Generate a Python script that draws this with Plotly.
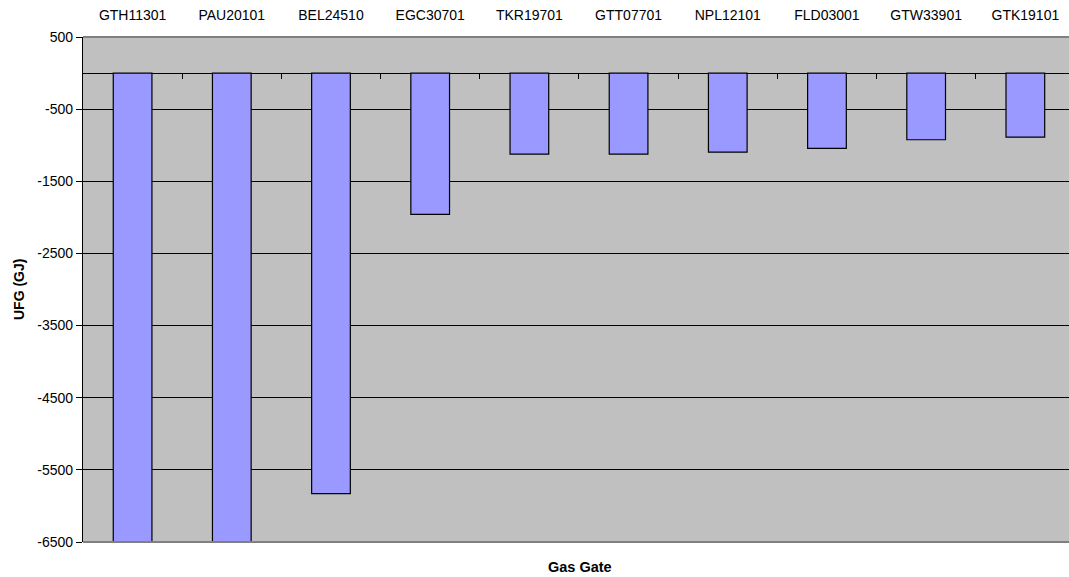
import plotly.graph_objects as go

gas_gates = ["GTH11301", "PAU20101", "BEL24510", "EGC30701", "TKR19701",
             "GTT07701", "NPL12101", "FLD03001", "GTW33901", "GTK19101"]
ufg_gj = [-7000, -7000, -5830, -1960, -1123, -1123, -1096, -1044, -924, -888]

y_ticks = [500, -500, -1500, -2500, -3500, -4500, -5500, -6500]

FONT = "Liberation Sans, Arial, sans-serif"

W, H = 1069, 577
L, T, B = 83, 37, 35
PW, PH = W - L, H - T - B

fig = go.Figure()
fig.add_trace(go.Bar(
    x=list(range(len(gas_gates))), y=ufg_gj,
    marker=dict(color="#9999FF", line=dict(color="#000000", width=1.2)),
    width=0.39, showlegend=False, hoverinfo="x+y",
))
# helper trace for the category-boundary ticks on the zero line
fig.add_trace(go.Scatter(x=[None], y=[None], xaxis="x2", yaxis="y",
                         showlegend=False, hoverinfo="skip"))

n = len(gas_gates)
fig.update_layout(
    width=W, height=H,
    margin=dict(l=L, r=0, t=T, b=B, pad=0),
    paper_bgcolor="white", plot_bgcolor="#C0C0C0",
    font=dict(family=FONT, size=14, color="#000000"),
    xaxis=dict(
        range=[-0.5, 9.44], side="top",
        tickmode="array", tickvals=list(range(n)), ticktext=gas_gates,
        ticks="outside", ticklen=10, tickcolor="rgba(0,0,0,0)",
        showgrid=False, zeroline=False, showline=False,
        tickfont=dict(size=14),
    ),
    xaxis2=dict(
        range=[-0.5, 9.44], overlaying="x", anchor="free",
        position=1 - 500 / 7000, side="bottom",
        tickmode="array", tickvals=[i + 0.5 for i in range(n - 1)],
        ticks="outside", ticklen=5, tickcolor="#000000", tickwidth=1,
        showticklabels=False, showgrid=False, zeroline=False, showline=False,
    ),
    yaxis=dict(
        range=[-6500, 500], tickmode="array", tickvals=y_ticks,
        ticktext=[str(v) for v in y_ticks],
        showgrid=True, gridcolor="#000000", gridwidth=1,
        zeroline=True, zerolinecolor="#000000", zerolinewidth=1.2,
        showline=True, linecolor="#000000", linewidth=1.2,
        ticks="outside", ticklen=6, tickcolor="#000000",
        tickfont=dict(size=14),
    ),
    shapes=[
        dict(type="line", xref="paper", yref="paper", x0=0, x1=1, y0=1, y1=1,
             line=dict(color="#808080", width=2), layer="above"),
        dict(type="line", xref="paper", yref="paper", x0=0, x1=1, y0=0, y1=0,
             line=dict(color="#808080", width=2), layer="above"),
    ],
    annotations=[
        dict(text="<b>Gas Gate</b>", xref="paper", yref="paper",
             x=(580 - L) / PW, y=-(567 - 542) / PH, showarrow=False,
             xanchor="center", yanchor="middle", font=dict(size=14.5)),
        dict(text="<b>UFG (GJ)</b>", xref="paper", yref="paper",
             x=-(L - 19) / PW, y=1 - (290 - T) / PH, showarrow=False,
             textangle=-90, xanchor="center", yanchor="middle",
             font=dict(size=14)),
    ],
)

fig.write_html(
    "out.html",
    config={"displayModeBar": False},
    post_script="document.body.style.margin='0';document.body.style.overflow='hidden';",
)
